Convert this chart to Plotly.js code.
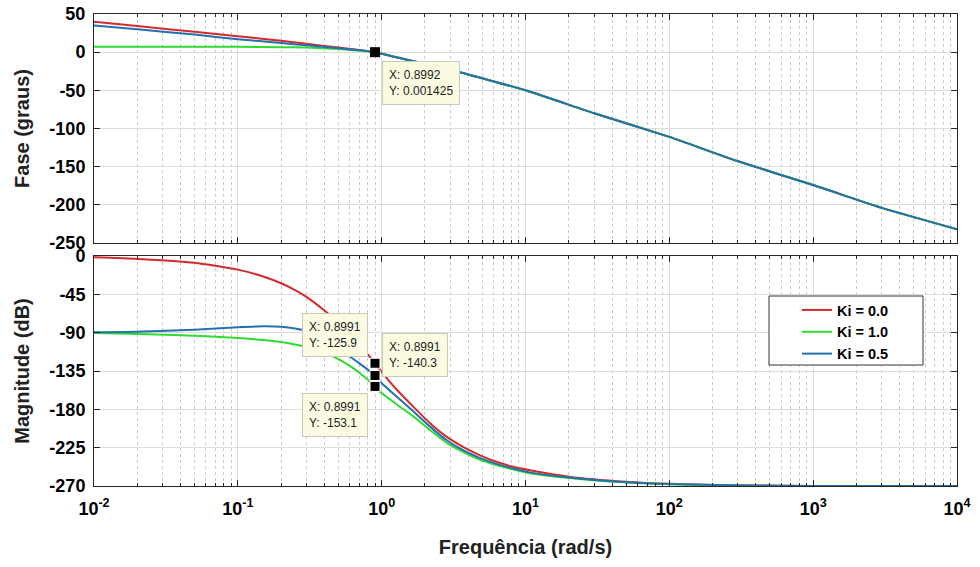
<!DOCTYPE html>
<html>
<head>
<meta charset="utf-8">
<script src="https://cdn.plot.ly/plotly-3.0.1.min.js"></script>
<style>html,body{margin:0;padding:0;background:#fff;}#chart{width:980px;height:567px;}</style>
</head>
<body>
<div id="chart"></div>
<script>
// ---- data ----
const seriesNames = ['Ki = 0.0', 'Ki = 1.0', 'Ki = 0.5'];

// phase (degrees)
const freqPhase = [0.01, 0.02, 0.05, 0.1, 0.2, 0.3, 0.5, 0.7, 0.9, 1.5, 3, 10, 30, 100, 300, 1000, 3000, 10000];
const phaseK00 = [40, 34.3, 26.7, 21, 15, 11, 6, 3, 0, -10, -23, -50, -80, -111, -143, -174, -204, -232];
const phaseK10 = [7, 7, 7, 7, 6.5, 6, 4, 2, 0, -10, -23, -50, -80, -111, -143, -174, -204, -232];
const phaseK05 = [35, 30, 23, 17, 12, 9, 5, 2.5, 0, -10, -23, -50, -80, -111, -143, -174, -204, -232];

// magnitude (dB)
const freqMag = [0.01, 0.02, 0.05, 0.1, 0.15, 0.2, 0.25, 0.3, 0.4, 0.5, 0.6, 0.7, 0.8991, 0.968, 1.27, 1.65, 2.16, 2.82, 3.68, 4.79, 6.28, 8.19, 10.7, 20, 50, 100, 300, 1000, 10000];
const magK00 = [-1.6, -3.5, -8, -16, -24, -32, -40, -48, -64, -78, -92, -104, -125.9, -133, -156.7, -176.5, -196, -212, -224, -233.7, -241.6, -247.5, -251.5, -259, -265, -267.5, -269.2, -270, -270];
const magK10 = [-90.4, -91.5, -93.5, -96.3, -98.5, -101, -104, -107, -114, -121, -129, -137, -153.1, -159, -174, -188, -204, -219, -230, -239, -245.5, -250.5, -255, -260.5, -265.7, -267.8, -269.4, -270, -270];
const magK05 = [-89.6, -89, -86.5, -83.7, -82.5, -83, -85, -88, -98, -109, -118, -126, -140.3, -147, -165, -182, -200, -216, -228, -237, -244, -249.5, -254, -260, -265.5, -267.7, -269.3, -270, -270];

// data tips
const tipPhaseX = [0.8992];
const tipPhaseY = [0.001425];
const tipMagX = [0.8991, 0.8991, 0.8991];
const tipMagY = [-125.9, -140.3, -153.1];

// axis tick labels
const xTickVals = [0.01, 0.1, 1, 10, 100, 1000, 10000];
const xTickText = ['10<sup>-2</sup>', '10<sup>-1</sup>', '10<sup>0</sup>', '10<sup>1</sup>', '10<sup>2</sup>', '10<sup>3</sup>', '10<sup>4</sup>'];
const phaseTickVals = [50, 0, -50, -100, -150, -200, -250];
const phaseTickText = ['50', '0', '-50', '-100', '-150', '-200', '-250'];
const magTickVals = [0, -45, -90, -135, -180, -225, -270];
const magTickText = ['0', '-45', '-90', '-135', '-180', '-225', '-270'];

// ---- style ----
const colors = ['#D42A2A', '#2EDB2E', '#2371AE'];
const FONT = '"Liberation Sans", Arial, sans-serif';

const traces = [];
const phaseData = [phaseK00, phaseK10, phaseK05];
const magData = [magK00, magK10, magK05];
for (let i = 0; i < 3; i++) {
  traces.push({x: freqPhase, y: phaseData[i], xaxis: 'x', yaxis: 'y', mode: 'lines',
    line: {color: colors[i], width: 2, shape: 'spline', smoothing: 0.5}, name: seriesNames[i], showlegend: false, hoverinfo: 'skip'});
}
for (let i = 0; i < 3; i++) {
  traces.push({x: freqMag, y: magData[i], xaxis: 'x2', yaxis: 'y2', mode: 'lines',
    line: {color: colors[i], width: 2, shape: 'spline', smoothing: 0.5}, name: seriesNames[i], showlegend: true, hoverinfo: 'skip'});
}
traces.push({x: tipPhaseX, y: tipPhaseY, xaxis: 'x', yaxis: 'y', mode: 'markers',
  marker: {symbol: 'square', size: 10, color: '#000'}, showlegend: false, cliponaxis: false, hoverinfo: 'skip'});
traces.push({x: tipMagX, y: tipMagY, xaxis: 'x2', yaxis: 'y2', mode: 'markers',
  marker: {symbol: 'square', size: 10, color: '#000', line: {color: '#fff', width: 1}}, showlegend: false, cliponaxis: false, hoverinfo: 'skip'});

const W = 980, H = 567, ML = 94, MR = 23, MT = 14, MB = 81;
const PW = W - ML - MR, PH = H - MT - MB;
const py = v => (H - MB - v) / PH;   // pixel y -> paper y
const px = v => (v - ML) / PW;       // pixel x -> paper x

const minorX = {ticks: 'inside', ticklen: 3, tickcolor: '#262626', showgrid: true, gridcolor: '#C8C8C8', griddash: 'dot', gridwidth: 1, dtick: 'D1'};
const xCommon = {
  type: 'log', range: [-2, 4], showline: true, linecolor: '#262626', linewidth: 1, mirror: 'ticks',
  ticks: 'inside', ticklen: 6, tickcolor: '#262626', showgrid: true, gridcolor: '#DCDCDC', gridwidth: 1,
  tickmode: 'array', tickvals: xTickVals, ticktext: xTickText, zeroline: false, minor: minorX,
  tickfont: {family: FONT, size: 18, color: '#000', weight: 'bold'}
};
const yCommon = {
  showline: true, linecolor: '#262626', linewidth: 1, mirror: 'ticks', ticks: 'inside', ticklen: 6, tickcolor: '#262626',
  showgrid: true, gridcolor: '#DCDCDC', zeroline: false, ticklabelstandoff: 4, tickmode: 'array',
  tickfont: {family: FONT, size: 18, color: '#000', weight: 'bold'}
};

const tipFont = {family: FONT, size: 12, color: '#222'};
const tipBox = {showarrow: false, align: 'left', bgcolor: '#FBFBE2', bordercolor: '#C9C9BC', borderwidth: 1, borderpad: 6, font: tipFont};
const fmt = v => String(v);

const layout = {
  width: W, height: H, margin: {l: ML, r: MR, t: MT, b: MB},
  paper_bgcolor: '#fff', plot_bgcolor: '#fff', showlegend: true,
  font: {family: FONT},
  xaxis: Object.assign({}, xCommon, {domain: [0, 1], anchor: 'y', showticklabels: false, matches: 'x2'}),
  xaxis2: Object.assign({}, xCommon, {domain: [0, 1], anchor: 'y2', ticklabelstandoff: 6,
    title: {text: 'Frequência (rad/s)', font: {family: FONT, size: 20, color: '#222', weight: 'bold'}, standoff: 22}}),
  yaxis: Object.assign({}, yCommon, {domain: [py(243), 1], range: [-250, 50], tickvals: phaseTickVals, ticktext: phaseTickText,
    title: {text: 'Fase (graus)', font: {family: FONT, size: 20, color: '#222', weight: 'bold'}, standoff: 14}}),
  yaxis2: Object.assign({}, yCommon, {domain: [0, py(256)], range: [-270, 0], tickvals: magTickVals, ticktext: magTickText,
    title: {text: 'Magnitude (dB)', font: {family: FONT, size: 20, color: '#222', weight: 'bold'}, standoff: 14}}),
  legend: {x: px(797), y: py(294), xanchor: 'left', yanchor: 'top', bgcolor: 'rgba(0,0,0,0)', borderwidth: 0,
    font: {family: FONT, size: 14.5, color: '#000', weight: 'bold'}, tracegroupgap: 0, itemwidth: 30},
  shapes: [{type: 'rect', xref: 'paper', yref: 'paper', x0: px(769), x1: px(923), y0: py(365), y1: py(296),
    fillcolor: '#fff', line: {color: '#333', width: 1}, layer: 'above'}],
  annotations: [
    Object.assign({}, tipBox, {xref: 'x', yref: 'y', x: Math.log10(tipPhaseX[0]), y: tipPhaseY[0], xanchor: 'left', yanchor: 'top', xshift: 7, yshift: -9,
      text: 'X: ' + fmt(tipPhaseX[0]) + '<br>Y: ' + fmt(tipPhaseY[0])}),
    Object.assign({}, tipBox, {xref: 'x2', yref: 'y2', x: Math.log10(tipMagX[0]), y: tipMagY[0], xanchor: 'right', yanchor: 'top', xshift: -7, yshift: 50,
      text: 'X: ' + fmt(tipMagX[0]) + '<br>Y: ' + fmt(tipMagY[0])}),
    Object.assign({}, tipBox, {xref: 'x2', yref: 'y2', x: Math.log10(tipMagX[1]), y: tipMagY[1], xanchor: 'left', yanchor: 'top', xshift: 7, yshift: 43,
      text: 'X: ' + fmt(tipMagX[1]) + '<br>Y: ' + fmt(tipMagY[1])}),
    Object.assign({}, tipBox, {xref: 'x2', yref: 'y2', x: Math.log10(tipMagX[2]), y: tipMagY[2], xanchor: 'right', yanchor: 'top', xshift: -7, yshift: -7,
      text: 'X: ' + fmt(tipMagX[2]) + '<br>Y: ' + fmt(tipMagY[2])})
  ]
};

Plotly.newPlot('chart', traces, layout, {staticPlot: true, displayModeBar: false});
</script>
</body>
</html>
